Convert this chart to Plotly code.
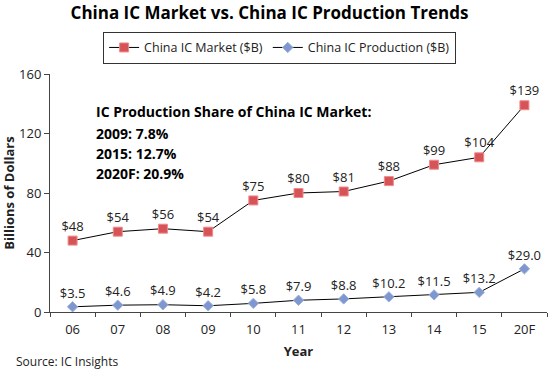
import plotly.graph_objects as go

years = ["06", "07", "08", "09", "10", "11", "12", "13", "14", "15", "20F"]
market = [48, 54, 56, 54, 75, 80, 81, 88, 99, 104, 139]
production = [3.5, 4.6, 4.9, 4.2, 5.8, 7.9, 8.8, 10.2, 11.5, 13.2, 29.0]
market_labels = ["$48", "$54", "$56", "$54", "$75", "$80", "$81", "$88", "$99", "$104", "$139"]
production_labels = ["$3.5", "$4.6", "$4.9", "$4.2", "$5.8", "$7.9", "$8.8", "$10.2", "$11.5", "$13.2", "$29.0"]
share_lines = ["IC Production Share of China IC Market:", "2009: 7.8%", "2015: 12.7%", "2020F: 20.9%"]

FONT = "Open Sans"

fig = go.Figure()
fig.add_trace(go.Scatter(
    x=years, y=market, mode="lines+markers+text", name="China IC Market ($B)",
    line=dict(color="black", width=1),
    marker=dict(symbol="square", size=9, color="#D65457", line=dict(color="#F08A8C", width=1)),
    text=market_labels, textposition="top center", cliponaxis=False,
    textfont=dict(size=13, color="#222", family=FONT),
))
fig.add_trace(go.Scatter(
    x=years, y=production, mode="lines+markers+text", name="China IC Production ($B)",
    line=dict(color="black", width=1),
    marker=dict(symbol="diamond", size=8, color="#7E97CF", line=dict(color="#9DB0DC", width=1)),
    text=production_labels, textposition="top center", cliponaxis=False,
    textfont=dict(size=13, color="#222", family=FONT),
))

fig.update_layout(
    width=550, height=369,
    margin=dict(l=50, r=3, t=74, b=57, autoexpand=False),
    paper_bgcolor="white", plot_bgcolor="white",
    font=dict(family=FONT, size=12, color="#222"),
    title=dict(text="<b>China IC Market vs. China IC Production Trends</b>",
               x=0.49, xanchor="center", y=0.965, yanchor="middle",
               font=dict(size=17, color="black", family=FONT)),
    showlegend=True,
    legend=dict(orientation="h", x=0.462, xanchor="center", y=1.11, yanchor="middle",
                bordercolor="#333", borderwidth=1, font=dict(size=12.5, family=FONT),
                itemwidth=30, tracegroupgap=0),
    xaxis=dict(type="category", range=[-0.5, 10.5], showline=True, linecolor="#444",
               linewidth=1, ticks="outside", tickson="boundaries", ticklen=4,
               tickcolor="#444", showgrid=False, tickfont=dict(size=13),
               ticklabelstandoff=5,
               title=dict(text="<b>Year</b>", font=dict(size=13), standoff=10)),
    yaxis=dict(range=[0, 160], tickvals=[0, 40, 80, 120, 160], showline=True,
               linecolor="#444", linewidth=1, ticks="outside", ticklen=5,
               tickcolor="#444", showgrid=False, zeroline=False, tickfont=dict(size=13),
               title=dict(text="<b>Billions of Dollars</b>", font=dict(size=13), standoff=2)),
)

# Share text block, one annotation per line (line centers at 111, 133, 153, 173 px)
line_y = [0.844, 0.752, 0.668, 0.584]
for txt, yy in zip(share_lines, line_y):
    fig.add_annotation(
        text=f"<b>{txt}</b>", xref="paper", yref="paper", x=0.088, y=yy,
        xanchor="left", yanchor="middle", align="left", showarrow=False,
        font=dict(size=14, color="black", family=FONT),
    )
fig.add_annotation(
    text="Source: IC Insights", xref="paper", yref="paper", x=-0.072, y=-0.209,
    xanchor="left", yanchor="middle", showarrow=False, font=dict(size=12, color="#222", family=FONT),
)

fig.write_html("out.html", config={"displayModeBar": False},
               post_script="document.body.style.margin='0';")
